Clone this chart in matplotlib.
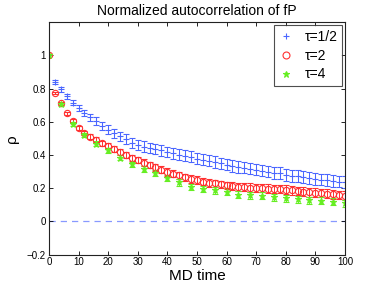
import numpy as np
import matplotlib
matplotlib.use("Agg")
import matplotlib.pyplot as plt
from matplotlib.lines import Line2D

plt.rcParams['font.family'] = ['Liberation Sans', 'DejaVu Sans']

x_half = list(range(0, 101, 2))
rho_half = [1.0, 0.84, 0.795, 0.752, 0.715, 0.682, 0.652, 0.626, 0.604, 0.575,
            0.553, 0.532, 0.513, 0.495, 0.473, 0.458, 0.450, 0.443, 0.435, 0.428,
            0.418, 0.410, 0.402, 0.395, 0.388, 0.378, 0.372, 0.365, 0.358, 0.350,
            0.342, 0.335, 0.328, 0.324, 0.318, 0.312, 0.306, 0.300, 0.294, 0.290,
            0.282, 0.276, 0.272, 0.266, 0.262, 0.257, 0.252, 0.248, 0.244, 0.240,
            0.238]
err_half = [0.0, 0.010, 0.013, 0.015, 0.017, 0.018, 0.020, 0.022, 0.024, 0.025,
            0.026, 0.027, 0.028, 0.029, 0.030, 0.030, 0.031, 0.031, 0.032, 0.032,
            0.032, 0.033, 0.033, 0.033, 0.033, 0.034, 0.034, 0.034, 0.034, 0.034,
            0.035, 0.035, 0.035, 0.035, 0.035, 0.035, 0.035, 0.035, 0.036, 0.036,
            0.036, 0.036, 0.036, 0.036, 0.036, 0.036, 0.036, 0.036, 0.036, 0.036,
            0.036]

x_two = list(range(0, 101, 2))
rho_two = [1.0, 0.775, 0.71, 0.652, 0.604, 0.563, 0.532, 0.511, 0.492, 0.471,
           0.455, 0.437, 0.419, 0.401, 0.383, 0.368, 0.354, 0.339, 0.326, 0.312,
           0.298, 0.287, 0.277, 0.265, 0.255, 0.248, 0.240, 0.233, 0.228, 0.222,
           0.216, 0.212, 0.208, 0.205, 0.203, 0.200, 0.199, 0.197, 0.195, 0.194,
           0.190, 0.186, 0.182, 0.178, 0.174, 0.172, 0.170, 0.166, 0.162, 0.158,
           0.154]
err_two = [0.0, 0.006, 0.008, 0.009, 0.010, 0.011, 0.012, 0.013, 0.014, 0.015,
           0.016, 0.017, 0.018, 0.018, 0.019, 0.019, 0.020, 0.020, 0.021, 0.021,
           0.022, 0.022, 0.022, 0.023, 0.023, 0.023, 0.024, 0.024, 0.024, 0.024,
           0.024, 0.025, 0.025, 0.025, 0.025, 0.025, 0.025, 0.025, 0.026, 0.026,
           0.026, 0.026, 0.026, 0.026, 0.026, 0.026, 0.026, 0.026, 0.026, 0.026,
           0.026]

x_four = list(range(0, 101, 4))
rho_four = [1.0, 0.705, 0.585, 0.522, 0.467, 0.428, 0.383, 0.343, 0.316, 0.290,
            0.263, 0.235, 0.207, 0.195, 0.187, 0.177, 0.160, 0.158, 0.155, 0.145,
            0.140, 0.132, 0.128, 0.124, 0.119, 0.110]
err_four = [0.0, 0.010, 0.012, 0.013, 0.014, 0.015, 0.016, 0.017, 0.018, 0.019,
            0.019, 0.020, 0.020, 0.020, 0.021, 0.021, 0.021, 0.021, 0.021, 0.021,
            0.021, 0.021, 0.021, 0.021, 0.021, 0.021]

labels = ['τ=1/2', 'τ=2', 'τ=4']
xticks = list(range(0, 101, 10))
yticks = [-0.2, 0, 0.2, 0.4, 0.6, 0.8, 1]
yticklabels = ['−0.2', '0', '0.2', '0.4', '0.6', '0.8', '1']

blue = '#4a66ff'
red = '#ff3030'
green = '#66ee22'

fig = plt.figure(figsize=(3.82, 2.87), dpi=100)
ax = fig.add_axes([0.128, 0.113, 0.775, 0.81])

ax.axhline(0, color='#8899ff', linestyle=(0, (5, 4)), linewidth=0.9, zorder=1)

common = dict(ms=4.5, mew=0.8, elinewidth=0.7, capsize=2, capthick=0.7)
ax.errorbar(x_half, rho_half, yerr=err_half, fmt='+', color=blue, **common)
ax.errorbar(x_two, rho_two, yerr=err_two, fmt='o', color=red, mfc='none', **common)
ax.errorbar(x_four, rho_four, yerr=err_four, fmt='*', color=green, **common)

ax.set_xlim(0, 100)
ax.set_ylim(-0.2, 1.2)
ax.set_xticks(xticks)
ax.set_yticks(yticks)
ax.set_yticklabels(yticklabels)
ax.tick_params(direction='in', top=True, right=True, labelsize=7, length=3, width=0.6, pad=2)
for s in ax.spines.values():
    s.set_linewidth(0.8)
    s.set_color('#222222')

ax.set_title('Normalized autocorrelation of fP', fontsize=10, pad=5)
ax.set_xlabel('MD time', fontsize=11, labelpad=1)
ax.set_ylabel('ρ', fontsize=11, labelpad=6)

handles = [
    Line2D([], [], marker='+', linestyle='none', color=blue, ms=5, mew=0.8),
    Line2D([], [], marker='o', linestyle='none', color=red, mfc='none', ms=5, mew=0.8),
    Line2D([], [], marker='*', linestyle='none', color=green, ms=5, mew=0.8),
]
leg = ax.legend(handles, labels, loc='upper right', fontsize=10, frameon=True,
                fancybox=False, edgecolor='#222222', handlelength=1.0,
                borderaxespad=0.2, labelspacing=0.35, handletextpad=0.8,
                borderpad=0.35)
leg.get_frame().set_linewidth(0.8)

fig.savefig('out.png', dpi=100)
